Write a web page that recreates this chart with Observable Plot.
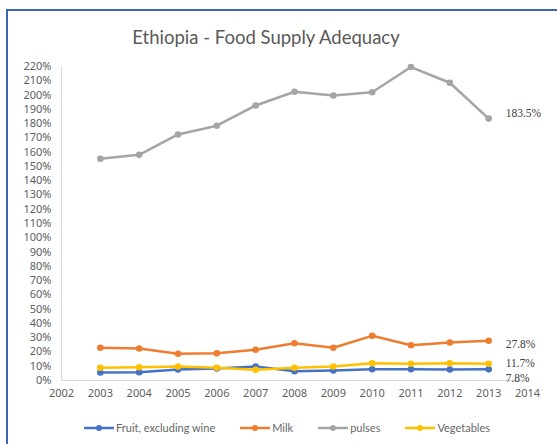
<!DOCTYPE html>
<html>
<head>
<meta charset="utf-8">
<script src="https://cdn.jsdelivr.net/npm/d3@7"></script>
<script src="https://cdn.jsdelivr.net/npm/@observablehq/plot@0.6"></script>
<style>
  html, body { margin: 0; padding: 0; background: #fff; }
  #wrap { position: relative; width: 557px; height: 444px; overflow: hidden; font-family: Lato, "Open Sans", sans-serif; }
  #frame { position: absolute; left: 6px; top: 9px; width: 600px; height: 500px; border-left: 2px solid #3a63b0; border-top: 2px solid #3a63b0; pointer-events: none; }
  #title { height: 52px; box-sizing: border-box; padding-top: 27px; line-height: 20px; font-size: 18.5px; color: #595959; text-align: center; width: 532px; }
  #legend { display: flex; justify-content: center; align-items: center; gap: 24px; padding-top: 14px; padding-left: 16px; font-size: 11px; color: #666; line-height: 12px; }
  .item { display: inline-flex; align-items: center; gap: 1px; }
  svg.plot text { font-family: Lato, "Open Sans", sans-serif; }
</style>
</head>
<body>
<div id="wrap">
  <div id="frame"></div>
  <div id="title"></div>
  <div id="chart"></div>
  <div id="legend"></div>
</div>
<script>
const title = "Ethiopia - Food Supply Adequacy";
const years = [2003, 2004, 2005, 2006, 2007, 2008, 2009, 2010, 2011, 2012, 2013];
const seriesNames = ["Fruit, excluding wine", "Milk", "pulses", "Vegetables"];
const fruit = [5.6, 5.8, 7.7, 8.4, 9.8, 6.5, 7.0, 7.9, 7.9, 7.7, 7.8];
const milk = [22.9, 22.4, 18.7, 19.1, 21.5, 26.1, 22.9, 31.3, 24.7, 26.6, 27.8];
const pulses = [155.4, 158.1, 172.4, 178.5, 192.7, 202.3, 199.7, 202.0, 219.6, 208.6, 183.5];
const vegetables = [8.9, 9.3, 9.8, 8.9, 7.5, 8.9, 9.8, 12.1, 11.7, 12.1, 11.7];
const endLabels = ["7.8%", "27.8%", "183.5%", "11.7%"];
const colors = ["#4472C4", "#ED7D31", "#A5A5A5", "#FFC000"];
const xTicks = d3.range(2002, 2015);
const yTicks = d3.range(0, 2.2001, 0.1);

const valueSets = [fruit, milk, pulses, vegetables];
const data = [];
seriesNames.forEach((s, i) => {
  years.forEach((y, j) => data.push({series: s, year: y, value: valueSets[i][j] / 100}));
});
const lastPoints = seriesNames.map((s, i) => ({
  series: s, year: years[years.length - 1], value: valueSets[i][years.length - 1] / 100, label: endLabels[i]
}));
const labelDy = [9, 3, -5, 0];

document.getElementById("title").textContent = title;

const labelMarks = lastPoints.map((p, i) => Plot.text([p], {
  x: "year", y: "value", text: "label", dx: 17, dy: labelDy[i], textAnchor: "start",
  fill: "#404040", fontSize: 11.5, fontFamily: "Liberation Serif, serif"
}));

const chart = Plot.plot({
  width: 557,
  height: 356,
  marginTop: 14,
  marginBottom: 28,
  marginLeft: 61,
  marginRight: 30,
  style: {fontSize: "11px", color: "#606060", background: "transparent"},
  x: {domain: [2002, 2014], ticks: xTicks, tickFormat: d3.format("d"), tickSize: 0, tickPadding: 9, label: null},
  y: {domain: [0, 2.2], ticks: yTicks, tickFormat: d3.format(".0%"), tickSize: 0, tickPadding: 10, label: null},
  color: {domain: seriesNames, range: colors},
  marks: [
    Plot.ruleY([0], {stroke: "#d9d9d9", strokeWidth: 1}),
    Plot.ruleX([2002], {stroke: "#d9d9d9", strokeWidth: 1}),
    Plot.line(data, {x: "year", y: "value", z: "series", stroke: "series", strokeWidth: 2.5}),
    Plot.dot(data, {x: "year", y: "value", fill: "series", r: 3.3}),
    ...labelMarks
  ]
});
document.getElementById("chart").appendChild(chart);

const legend = document.getElementById("legend");
seriesNames.forEach((s, i) => {
  const item = document.createElement("span");
  item.className = "item";
  item.innerHTML = `<svg width="32" height="10"><line x1="1" y1="5" x2="31" y2="5" stroke="${colors[i]}" stroke-width="2.5"/><circle cx="16" cy="5" r="3" fill="${colors[i]}"/></svg><span>${s}</span>`;
  legend.appendChild(item);
});
</script>
</body>
</html>
